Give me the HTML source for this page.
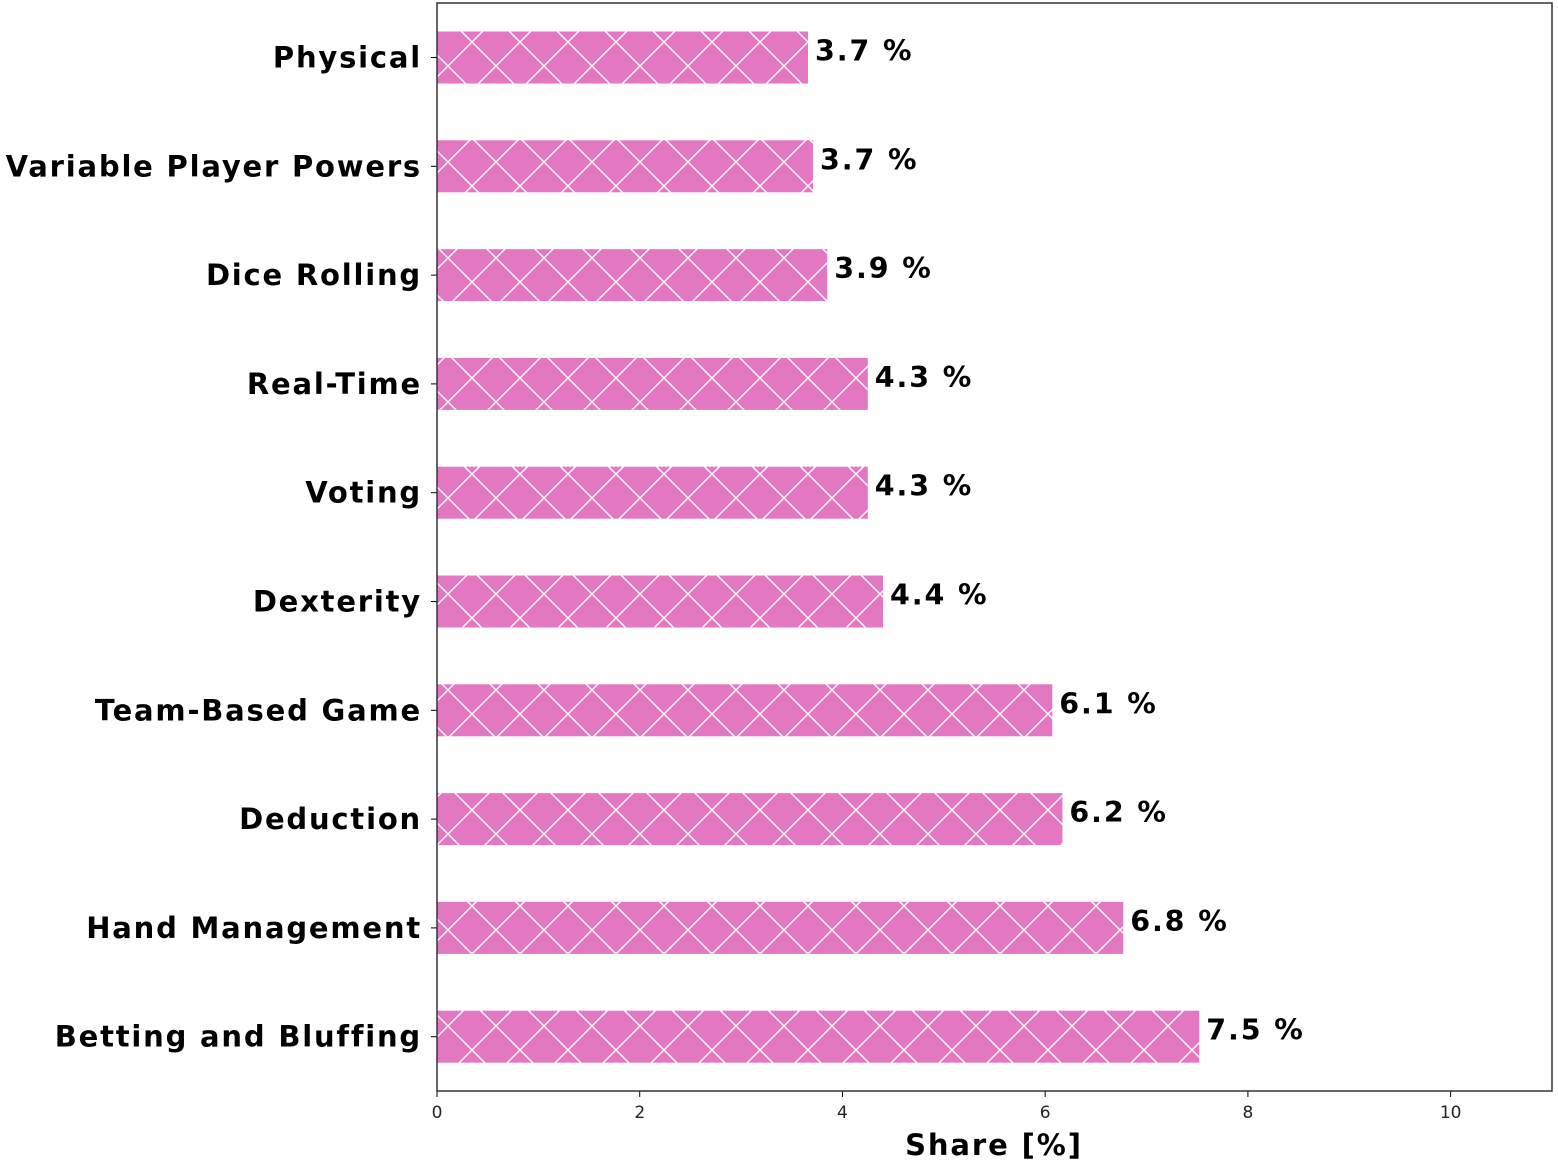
<!DOCTYPE html>
<html><head><meta charset="utf-8"><style>
html,body{margin:0;padding:0;background:#fff}
svg{display:block}
</style></head><body>
<svg id="chart" width="1558" height="1168" xmlns="http://www.w3.org/2000/svg">
<defs>
<pattern id="hatch" patternUnits="userSpaceOnUse" x="448" y="18" width="48" height="48">
<rect width="48" height="48" fill="#e377c2"/>
<path d="M0,0L48,48M48,0L0,48M-2,46L2,50M46,-2L50,2M-2,2L2,-2M46,50L50,46" stroke="#fff" stroke-width="1.4"/>
</pattern>
</defs>
<g id="bars"></g>
<g id="labels"></g>
<g id="axes"></g>
</svg>
<script>
const categories = ["Physical","Variable Player Powers","Dice Rolling","Real-Time","Voting","Dexterity","Team-Based Game","Deduction","Hand Management","Betting and Bluffing"];
const values = [3.66,3.71,3.85,4.25,4.25,4.4,6.07,6.17,6.77,7.52];
const xTicks = [0,2,4,6,8,10];
const xMax = 11;

const L=437, R=1552, T=3, B=1091;
const NS="http://www.w3.org/2000/svg";
function x(v){return L+(v/xMax)*(R-L);}
const step=108.8, y0=57.5, barH=52;
function y(i){return y0+i*step;}
function mk(tag,attrs,parent,text){const e=document.createElementNS(NS,tag);for(const k in attrs)e.setAttribute(k,attrs[k]);if(text!==undefined)e.textContent=text;parent.appendChild(e);return e;}
const gb=document.getElementById('bars'),gl=document.getElementById('labels'),ga=document.getElementById('axes');
const font='"DejaVu Sans","Liberation Sans",sans-serif';
categories.forEach((c,i)=>{
  const r=mk('rect',{x:x(0),y:y(i)-barH/2,width:x(values[i])-x(0),height:barH,fill:'url(#hatch)'},gb);
  
  
  const t=mk('text',{x:x(values[i])+7,y:y(i)+3,'font-family':font,'font-size':28.5,'font-weight':'bold','letter-spacing':'1.9px',fill:'#000'},gl,values[i].toFixed(1)+' %');
  
  
  const ct=mk('text',{x:422,y:y(i)+10,'text-anchor':'end','font-family':font,'font-size':29,'font-weight':'bold','letter-spacing':'1.8px',fill:'#000'},ga,c);
  
  
  mk('line',{x1:431,x2:L,y1:y(i),y2:y(i),stroke:'#000','stroke-width':1},ga);
});
xTicks.forEach(v=>{
  mk('line',{x1:x(v),x2:x(v),y1:B,y2:B+6,stroke:'#000','stroke-width':1},ga);
  const t=mk('text',{x:x(v),y:B+27,'text-anchor':'middle','font-family':font,'font-size':17,fill:'#222'},ga,String(v));
  
  
});
const frame=mk('rect',{x:L,y:T,width:R-L,height:B-T,fill:'none',stroke:'#333','stroke-width':1.5},ga);


const xt=mk('text',{x:994,y:1155,'text-anchor':'middle','font-family':font,'font-size':29,'font-weight':'bold','letter-spacing':'1.9px',fill:'#000'},ga,'Share [%]');


</script>
</body></html>
